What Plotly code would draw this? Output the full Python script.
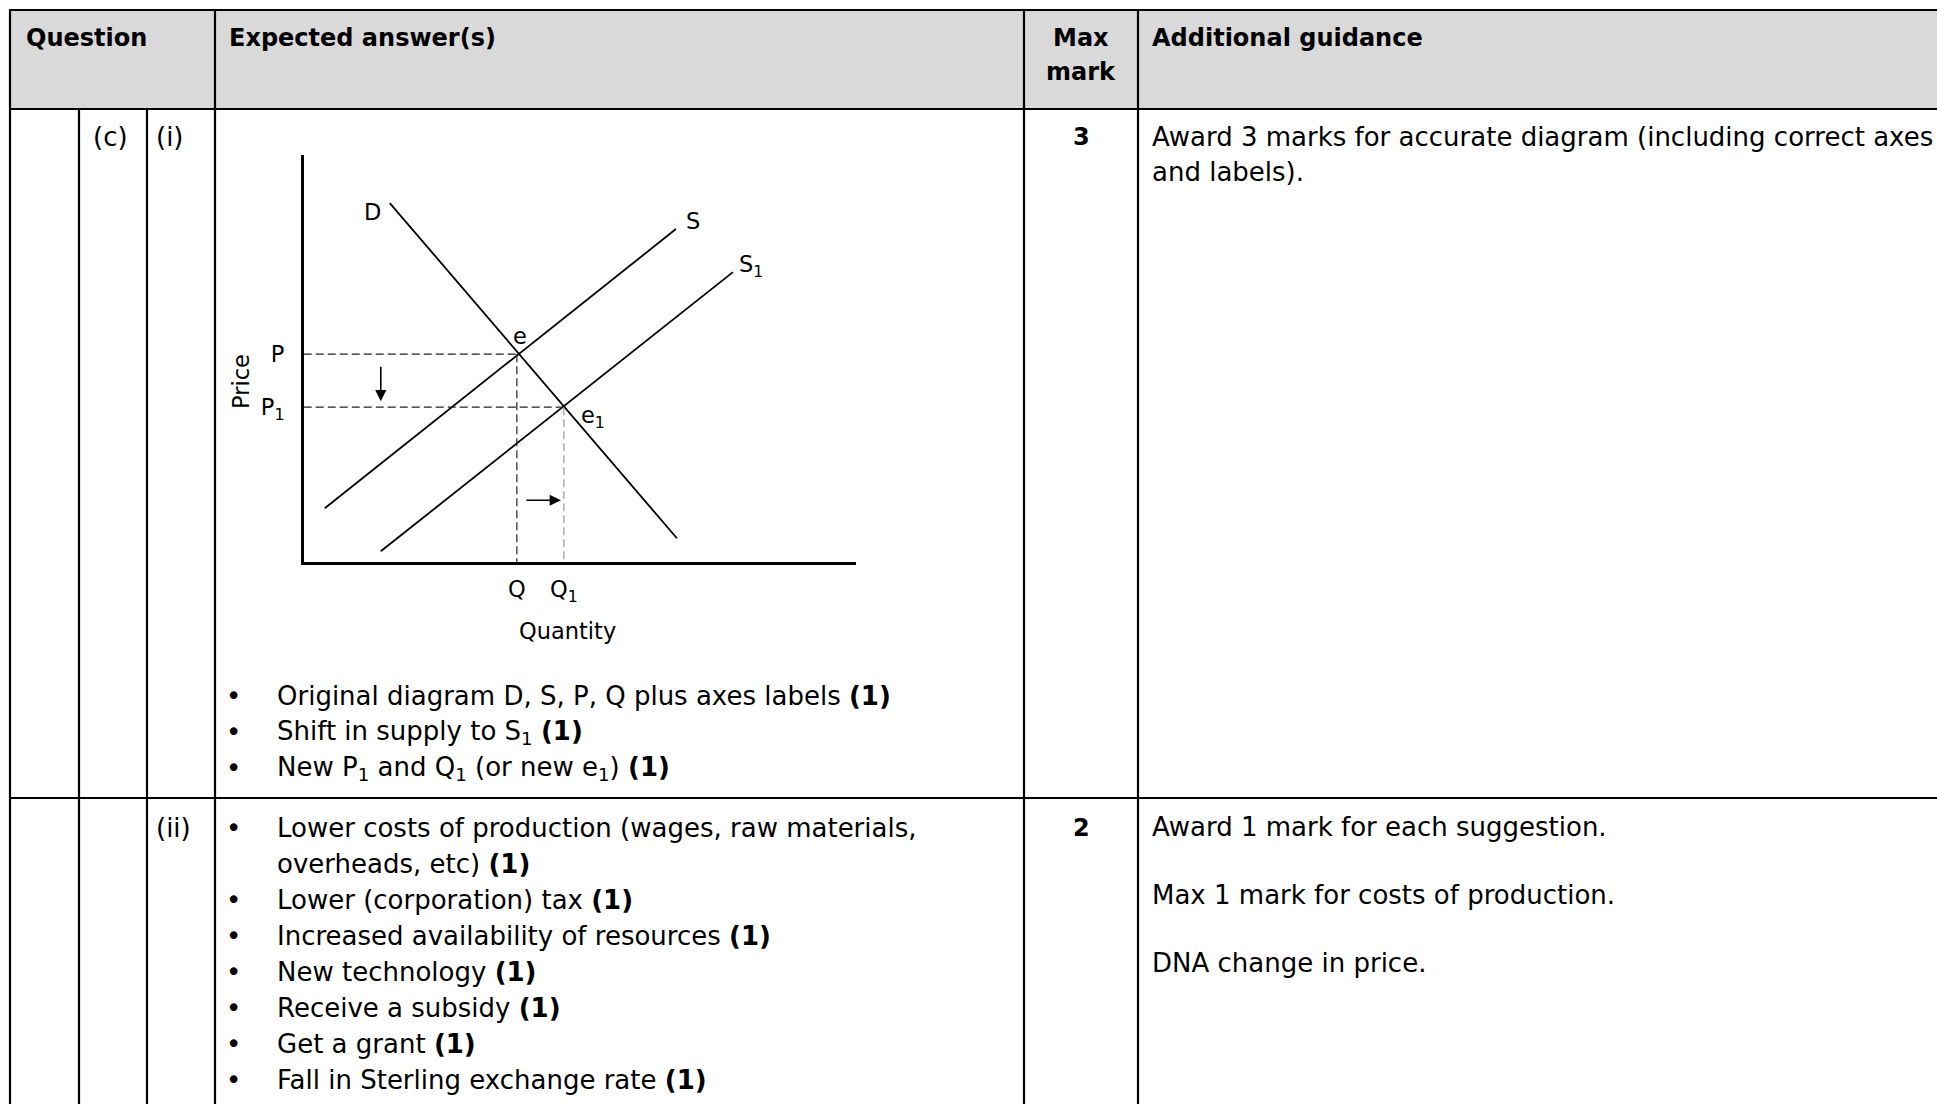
import plotly.graph_objects as go

W, H = 1937, 1104
FONT = "DejaVu Sans"

# --- diagram values (quantity, price) ---
demand_q = [8.6, 37.3]
demand_p = [35.9, 2.4]
supply_q = [2.1, 37.2]
supply_p = [5.4, 33.3]
supply1_q = [7.7, 42.9]
supply1_p = [1.1, 29.0]
eq_q = [21.3, 26.0]          # Q, Q1
eq_p = [20.8, 15.5]          # P, P1
eq_names = ["e", "e<sub>1</sub>"]
price_ticks = ["P", "P<sub>1</sub>"]
qty_ticks = ["Q", "Q<sub>1</sub>"]
curve_names = ["D", "S", "S<sub>1</sub>"]
price_arrow = [19.7, 16.1]   # P -> P1 arrow (tail, head)
qty_arrow = [22.1, 25.7]     # Q -> Q1 arrow (tail, head)

# --- table text ---
header = ["Question", "Expected answer(s)", "Max", "mark", "Additional guidance"]
row1_q = ["(c)", "(i)"]
row1_mark = "3"
row1_guidance = ["Award 3 marks for accurate diagram (including correct axes",
                 "and labels)."]
row1_bullets = ["Original diagram D, S, P, Q plus axes labels <b>(1)</b>",
                "Shift in supply to S<sub>1</sub> <b>(1)</b>",
                "New P<sub>1</sub> and Q<sub>1</sub> (or new e<sub>1</sub>) <b>(1)</b>"]
row2_q = "(ii)"
row2_mark = "2"
row2_bullets = [("•", "Lower costs of production (wages, raw materials,"),
                ("", "overheads, etc) <b>(1)</b>"),
                ("•", "Lower (corporation) tax <b>(1)</b>"),
                ("•", "Increased availability of resources <b>(1)</b>"),
                ("•", "New technology <b>(1)</b>"),
                ("•", "Receive a subsidy <b>(1)</b>"),
                ("•", "Get a grant <b>(1)</b>"),
                ("•", "Fall in Sterling exchange rate <b>(1)</b>")]
row2_guidance = ["Award 1 mark for each suggestion.",
                 "Max 1 mark for costs of production.",
                 "DNA change in price."]

fig = go.Figure()

# diagram curves
line = dict(color="black", width=1.8)
fig.add_trace(go.Scatter(x=demand_q, y=demand_p, mode="lines", line=line, xaxis="x2", yaxis="y2"))
fig.add_trace(go.Scatter(x=supply_q, y=supply_p, mode="lines", line=line, xaxis="x2", yaxis="y2"))
fig.add_trace(go.Scatter(x=supply1_q, y=supply1_p, mode="lines", line=line, xaxis="x2", yaxis="y2"))

# dashed guides
guide = dict(color="#222222", width=1.2, dash="8px,4px")
for i in range(2):
    fig.add_trace(go.Scatter(x=[0, eq_q[i]], y=[eq_p[i], eq_p[i]], mode="lines",
                             line=guide, xaxis="x2", yaxis="y2"))
fig.add_trace(go.Scatter(x=[eq_q[0], eq_q[0]], y=[eq_p[0], 0], mode="lines",
                         line=guide, xaxis="x2", yaxis="y2"))
fig.add_trace(go.Scatter(x=[eq_q[1], eq_q[1]], y=[eq_p[1], 0], mode="lines",
                         line=dict(color="#9a9a9a", width=1.2, dash="8px,4px"),
                         xaxis="x2", yaxis="y2"))

ann = []


def txt(x, y, s, size=26, anchor="left", ref=("x", "y"), **kw):
    ann.append(dict(x=x, y=y, xref=ref[0], yref=ref[1], text=s, showarrow=False,
                    xanchor=anchor, yanchor="middle",
                    font=dict(family=FONT, size=size, color="black"), **kw))


# diagram labels
DS = 22.5
d2 = ("x2", "y2")
txt(6.9, 35.0, curve_names[0], DS, "center", d2)
txt(38.9, 34.1, curve_names[1], DS, "center", d2)
txt(44.7, 29.6, curve_names[2], DS, "center", d2)
txt(21.6, 22.6, eq_names[0], DS, "center", d2)
txt(28.9, 14.5, eq_names[1], DS, "center", d2)
# axis titles sit outside the diagram's range, so they go on the page axes
txt(241, 382, "Price", DS, "center", textangle=-90)
txt(567, 631, "Quantity", DS, "center")

# shift arrows
ann.append(dict(x=7.7, y=price_arrow[1], ax=7.7, ay=price_arrow[0], xref="x2", yref="y2",
                axref="x2", ayref="y2", showarrow=True, arrowhead=2, arrowsize=1.4,
                arrowwidth=1.6, arrowcolor="black", text=""))
ann.append(dict(x=qty_arrow[1], y=6.2, ax=qty_arrow[0], ay=6.2, xref="x2", yref="y2",
                axref="x2", ayref="y2", showarrow=True, arrowhead=2, arrowsize=1.4,
                arrowwidth=1.6, arrowcolor="black", text=""))

# header
HB = 24
txt(24, 38, "<b>%s</b>" % header[0], HB)
txt(227, 38, "<b>%s</b>" % header[1], HB)
txt(1081, 38, "<b>%s</b>" % header[2], HB, anchor="center")
txt(1081, 72, "<b>%s</b>" % header[3], HB, anchor="center")
txt(1150, 38, "<b>%s</b>" % header[4], HB)

# row 1
txt(91, 137, row1_q[0])
txt(154, 137, row1_q[1])
txt(1081, 137, "<b>%s</b>" % row1_mark, HB, anchor="center")
for i, s in enumerate(row1_guidance):
    txt(1150, 137 + 35 * i, s)
for i, s in enumerate(row1_bullets):
    txt(233, 696 + 36 * i, "•", anchor="center")
    txt(275, 696 + 36 * i, s)

# row 2
txt(154, 828, row2_q)
txt(1081, 828, "<b>%s</b>" % row2_mark, HB, anchor="center")
for i, (b, s) in enumerate(row2_bullets):
    y = 828 + 36 * i
    if b:
        txt(233, y, b, anchor="center")
    txt(275, y, s)
for i, s in enumerate(row2_guidance):
    txt(1150, 827 + 68 * i, s)

# table grid
shapes = [dict(type="rect", xref="x", yref="y", x0=10, x1=1945, y0=10, y1=109,
               fillcolor="#d9d9d9", line=dict(width=0), layer="below")]
g = dict(color="black", width=2.2)
for yy in [10, 109, 798]:
    shapes.append(dict(type="line", xref="x", yref="y", x0=9, x1=1945, y0=yy, y1=yy, line=g))
for xx in [10, 215, 1024, 1138]:
    shapes.append(dict(type="line", xref="x", yref="y", x0=xx, x1=xx, y0=9, y1=1110, line=g))
for xx in [79, 147]:
    shapes.append(dict(type="line", xref="x", yref="y", x0=xx, x1=xx, y0=109, y1=1110, line=g))

ox, oy = 303.75, 562.3
fig.update_layout(
    width=W, height=H, autosize=False,
    margin=dict(l=0, r=0, t=0, b=0),
    paper_bgcolor="white", plot_bgcolor="rgba(0,0,0,0)",
    showlegend=False,
    xaxis=dict(domain=[0, 1], range=[0, W], visible=False, fixedrange=True),
    yaxis=dict(domain=[0, 1], range=[H, 0], visible=False, fixedrange=True),
    xaxis2=dict(domain=[ox / W, 856 / W], range=[0, 55.2], anchor="y2",
                showline=True, linewidth=2.6, linecolor="black", showgrid=False,
                zeroline=False, ticks="", tickvals=eq_q, ticktext=qty_ticks,
                tickfont=dict(family=FONT, size=DS, color="black"), ticklabelstandoff=5),
    yaxis2=dict(domain=[1 - oy / H, 1 - 155 / H], range=[0, 40.7], anchor="x2",
                showline=True, linewidth=2.6, linecolor="black", showgrid=False,
                zeroline=False, ticks="", tickvals=eq_p, ticktext=price_ticks,
                tickfont=dict(family=FONT, size=DS, color="black"), ticklabelstandoff=12),
    annotations=ann,
    shapes=shapes,
)

fig.write_html("out.html", config={"displayModeBar": False},
               post_script="document.body.style.margin='0';")
